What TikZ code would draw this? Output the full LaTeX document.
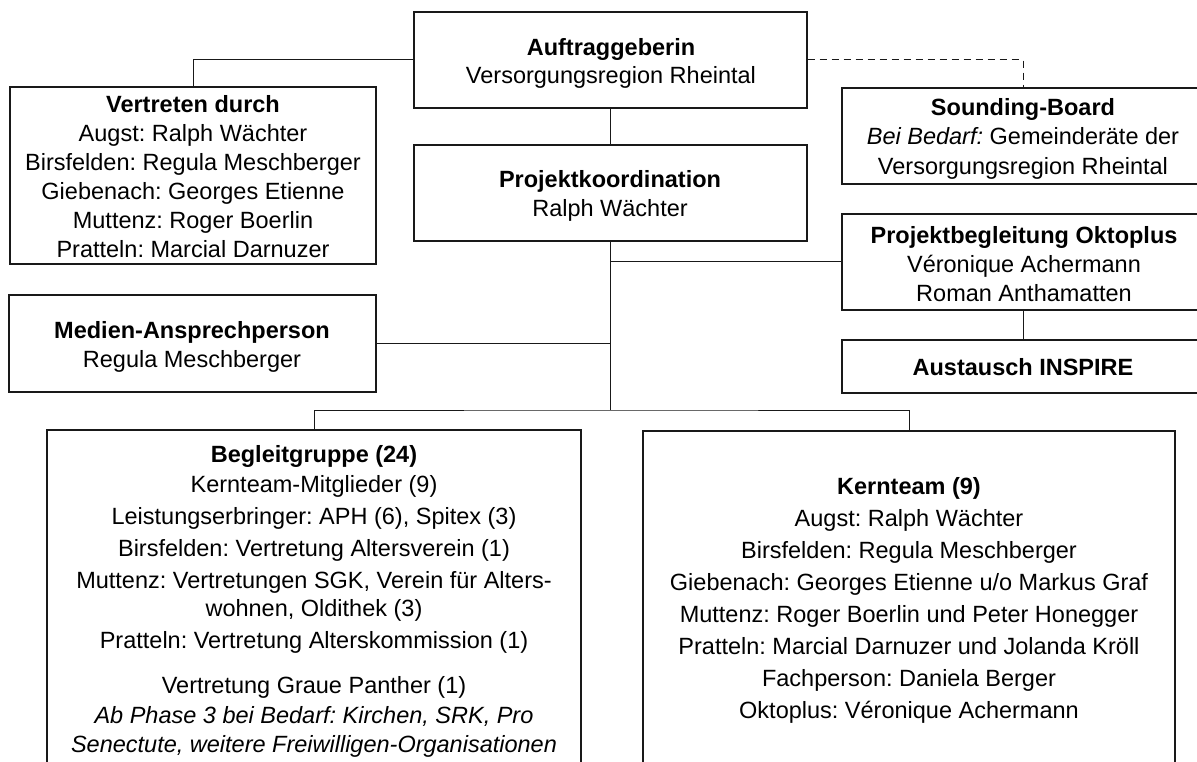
\documentclass[tikz,border=0pt]{standalone}
\usepackage{fontspec}
\setmainfont{Liberation Sans}
\newcommand\mystrut{\rule{0pt}{20pt}}
\frenchspacing
\begin{document}
\begin{tikzpicture}[x=1pt,y=-1pt,
  box/.style={draw=black!90, line width=1.3pt, rectangle, inner sep=0pt},
  txt/.style={align=center, inner sep=0pt, anchor=north, text=black},
  conn/.style={draw=black!90, line width=1pt},
  dashconn/.style={conn, dash pattern=on 7pt off 5pt}
  ]
\useasboundingbox[fill=white] (0,0) rectangle (1197,762);
\clip (0,0) rectangle (1197,762);

% boxes
\node[box, minimum width=393pt, minimum height=96pt] (auftr) at (610.5,60) {};
\node[box, minimum width=393pt, minimum height=96pt] (proj) at (610.5,193) {};
\node[box, minimum width=366pt, minimum height=177pt] (vertr) at (193,175.5) {};
\node[box, minimum width=367pt, minimum height=97pt] (medien) at (192.5,343.5) {};
\node[box, minimum width=362pt, minimum height=96pt] (sound) at (1023,136) {};
\node[box, minimum width=362pt, minimum height=96pt] (projbeg) at (1023,262) {};
\node[box, minimum width=362pt, minimum height=53pt] (aust) at (1023,366.5) {};
\node[box, minimum width=534pt, minimum height=370pt] (begl) at (314,615) {};
\node[box, minimum width=532pt, minimum height=369pt] (kern) at (909,615.5) {};

% texts
\node[txt, font=\fontsize{23.5pt}{28pt}\selectfont] (tauftr) at (611,35)
  {\mystrut\textbf{Auftraggeberin}\\Versorgungsregion Rheintal};
\node[txt, font=\fontsize{23.5pt}{29pt}\selectfont] (tproj) at (610,167)
  {\mystrut\textbf{Projektkoordination}\\Ralph Wächter};
\node[txt, font=\fontsize{23.5pt}{29pt}\selectfont] (tvertr) at (193,92)
  {\mystrut\textbf{Vertreten durch}\\Augst: Ralph Wächter\\Birsfelden: Regula Meschberger\\Giebenach: Georges Etienne\\Muttenz: Roger Boerlin\\Pratteln: Marcial Darnuzer};
\node[txt, font=\fontsize{23.5pt}{29pt}\selectfont] (tmedien) at (192,318)
  {\mystrut\textbf{Medien-Ansprechperson}\\Regula Meschberger};
\node[txt, font=\fontsize{23.5pt}{29.5pt}\selectfont] (tsound) at (1023,95)
  {\mystrut\textbf{Sounding-Board}\\\textit{Bei Bedarf:} Gemeinderäte der\\Versorgungsregion Rheintal};
\node[txt, font=\fontsize{23.5pt}{29pt}\selectfont] (tprojbeg) at (1024,223)
  {\mystrut\textbf{Projektbegleitung Oktoplus}\\Véronique Achermann\\Roman Anthamatten};
\node[txt, font=\fontsize{23.5pt}{29pt}\selectfont] (taust) at (1023,355)
  {\mystrut\textbf{Austausch INSPIRE}};
\node[txt, font=\fontsize{23.5pt}{32pt}\selectfont] (tbegl) at (314,442)
  {\mystrut\textbf{Begleitgruppe (24)}\\[-2pt]
   Kernteam-Mitglieder (9)\\
   Leistungserbringer: APH (6), Spitex (3)\\
   Birsfelden: Vertretung Altersverein (1)\\
   Muttenz: Vertretungen SGK, Verein für Alters-\\[-4pt]
   wohnen, Oldithek (3)\\
   Pratteln: Vertretung Alterskommission (1)\\[13pt]
   Vertretung Graue Panther (1)\\[-2pt]
   \textit{Ab Phase 3 bei Bedarf: Kirchen, SRK, Pro}\\[-3pt]
   \textit{Senectute, weitere Freiwilligen-Organisationen}};
\node[txt, font=\fontsize{23.5pt}{32.1pt}\selectfont] (tkern) at (909,474)
  {\mystrut\textbf{Kernteam (9)}\\
   Augst: Ralph Wächter\\
   Birsfelden: Regula Meschberger\\
   Giebenach: Georges Etienne u/o Markus Graf\\
   Muttenz: Roger Boerlin und Peter Honegger\\
   Pratteln: Marcial Darnuzer und Jolanda Kröll\\
   Fachperson: Daniela Berger\\
   Oktoplus: Véronique Achermann};

% connectors
\coordinate (bus) at (610.5,410);
\draw[conn] (auftr.west) -| (vertr.north);
\draw[conn] (auftr.south) -- (proj.north);
\draw[dashconn] (auftr.east) -| (sound.north);
\draw[conn] (proj.south) -- (bus);
\draw[conn] (medien.east) -- (medien.east -| bus);
\draw[conn] (projbeg.west) -- (projbeg.west -| bus);
\draw[conn] (projbeg.south) -- (aust.north);
\draw[conn] (begl.north) |- (bus) -| (kern.north);
\end{tikzpicture}
\end{document}
